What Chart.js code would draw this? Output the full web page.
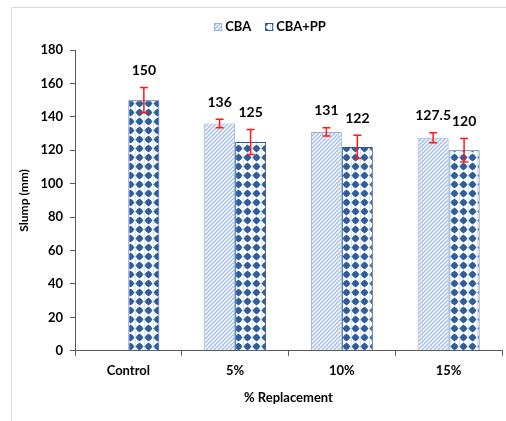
<!DOCTYPE html>
<html>
<head>
<meta charset="utf-8">
<script src="https://cdn.jsdelivr.net/npm/chart.js@4/dist/chart.umd.min.js"></script>
<style>
html,body{margin:0;padding:0;background:#fff;}
#wrap{width:506px;height:421px;position:relative;}
</style>
</head>
<body>
<div id="wrap"><canvas id="c" width="506" height="421"></canvas></div>
<script>
const categories = ['Control', '5%', '10%', '15%'];
const cbaValues = [null, 136, 131, 127.5];
const cbaPpValues = [150, 125, 122, 120];
const cbaErrors = [null, 2.5, 2.5, 3];
const cbaPpErrors = [7.5, 7.5, 7, 7];
const seriesNames = ['CBA', 'CBA+PP'];
const yTitle = 'Slump (mm)';
const xTitle = '% Replacement';

const FONT = 'Lato, "Open Sans", "Liberation Sans", sans-serif';

function hatchPattern() {
  const t = document.createElement('canvas');
  t.width = 4; t.height = 4;
  const g = t.getContext('2d');
  g.fillStyle = '#ffffff'; g.fillRect(0, 0, 4, 4);
  g.strokeStyle = '#a3bde2'; g.lineWidth = 1.4;
  g.beginPath();
  g.moveTo(-1, 5); g.lineTo(5, -1);
  g.moveTo(-1, 1); g.lineTo(1, -1);
  g.moveTo(3, 5); g.lineTo(5, 3);
  g.stroke();
  return g.createPattern(t, 'repeat');
}
function dotPattern() {
  const s = 9;
  const t = document.createElement('canvas');
  t.width = s; t.height = s;
  const g = t.getContext('2d');
  g.fillStyle = '#ffffff'; g.fillRect(0, 0, s, s);
  g.fillStyle = '#dbe5f3'; g.fillRect(0, 0, 1, s);
  g.fillStyle = '#2f5e9e';
  const c = s / 2;
  g.beginPath();
  g.moveTo(c, c - 4); g.lineTo(c + 4, c); g.lineTo(c, c + 4); g.lineTo(c - 4, c); g.closePath();
  g.fill();
  g.beginPath(); g.arc(c, c, 3, 0, Math.PI * 2); g.fill();
  return g.createPattern(t, 'repeat');
}
const hatch = hatchPattern();
const dots = dotPattern();

const errorBars = {
  id: 'errorBars',
  afterDatasetsDraw(chart) {
    const ctx = chart.ctx;
    const ys = chart.scales.y;
    const errs = [cbaErrors, cbaPpErrors];
    ctx.save();
    chart.data.datasets.forEach((ds, di) => {
      const meta = chart.getDatasetMeta(di);
      meta.data.forEach((bar, i) => {
        const v = ds.data[i];
        const e = errs[di][i];
        if (v == null || e == null) return;
        const x = bar.x;
        const yTop = ys.getPixelForValue(v + e);
        const yBot = ys.getPixelForValue(v - e);
        ctx.strokeStyle = '#ff1a1a';
        ctx.lineWidth = 1.5;
        ctx.beginPath();
        ctx.moveTo(x, yTop); ctx.lineTo(x, yBot);
        ctx.moveTo(x - 4, yTop); ctx.lineTo(x + 4, yTop);
        ctx.moveTo(x - 4, yBot); ctx.lineTo(x + 4, yBot);
        ctx.stroke();
        ctx.fillStyle = '#000000';
        ctx.font = 'bold 14px ' + FONT;
        ctx.textAlign = 'center';
        ctx.textBaseline = 'middle';
        ctx.fillText(String(v), x, yTop - 17);
      });
    });
    ctx.restore();
  }
};

const frameAndLegend = {
  id: 'frameAndLegend',
  beforeDraw(chart) {
    const ctx = chart.ctx;
    ctx.save();
    ctx.strokeStyle = '#d9d9d9';
    ctx.lineWidth = 1;
    ctx.beginPath();
    ctx.moveTo(11.5, 421); ctx.lineTo(11.5, 7.5); ctx.lineTo(506, 7.5);
    ctx.stroke();
    ctx.restore();
  },
  afterDraw(chart) {
    const ctx = chart.ctx;
    ctx.save();
    ctx.font = 'bold 13px ' + FONT;
    ctx.textBaseline = 'middle';
    ctx.textAlign = 'left';
    const items = [
      {name: seriesNames[0], fill: hatch, border: '#95b3d7'},
      {name: seriesNames[1], fill: dots, border: '#2f5a96'}
    ];
    const box = 8, gapBox = 3, gapItem = 14;
    let total = 0;
    items.forEach((it, i) => { total += box + gapBox + ctx.measureText(it.name).width + (i ? gapItem : 0); });
    let x = 270 - total / 2;
    const cy = 27;
    items.forEach((it, i) => {
      if (i) x += gapItem;
      ctx.fillStyle = it.fill;
      ctx.fillRect(x, cy - box / 2, box, box);
      ctx.strokeStyle = it.border;
      ctx.lineWidth = 1;
      ctx.strokeRect(x + 0.5, cy - box / 2 + 0.5, box - 1, box - 1);
      x += box + gapBox;
      ctx.fillStyle = '#000000';
      ctx.fillText(it.name, x, cy);
      x += ctx.measureText(it.name).width;
    });
    ctx.restore();
  }
};

new Chart(document.getElementById('c'), {
  type: 'bar',
  data: {
    labels: categories,
    datasets: [
      {label: seriesNames[0], data: cbaValues, backgroundColor: hatch, borderColor: '#95b3d7', borderWidth: 1},
      {label: seriesNames[1], data: cbaPpValues, backgroundColor: dots, borderColor: '#2f5a96', borderWidth: 1}
    ]
  },
  options: {
    responsive: false,
    animation: false,
    devicePixelRatio: 1,
    layout: {padding: {left: 17, right: 4, top: 50, bottom: 15}},
    datasets: {bar: {categoryPercentage: 0.58, barPercentage: 1}},
    plugins: {legend: {display: false}, tooltip: {enabled: false}},
    scales: {
      x: {
        grid: {drawOnChartArea: false, tickLength: 5, color: '#595959', offset: true},
        border: {color: '#595959', width: 1},
        ticks: {color: '#000', font: {family: FONT, weight: 'bold', size: 13}, padding: 7},
        title: {display: true, text: xTitle, color: '#000', font: {family: FONT, weight: 'bold', size: 13}, padding: {top: 5, bottom: 0}}
      },
      y: {
        min: 0, max: 180,
        afterFit(s) { s.width = 58; },
        grid: {drawOnChartArea: false, tickLength: 5, color: '#595959'},
        border: {color: '#595959', width: 1},
        ticks: {stepSize: 20, color: '#000', font: {family: FONT, weight: 'bold', size: 13}, padding: 7},
        title: {display: true, text: yTitle, color: '#000', font: {family: FONT, weight: 'bold', size: 12}, padding: {top: 0, bottom: 0}}
      }
    }
  },
  plugins: [errorBars, frameAndLegend]
});
</script>
</body>
</html>
